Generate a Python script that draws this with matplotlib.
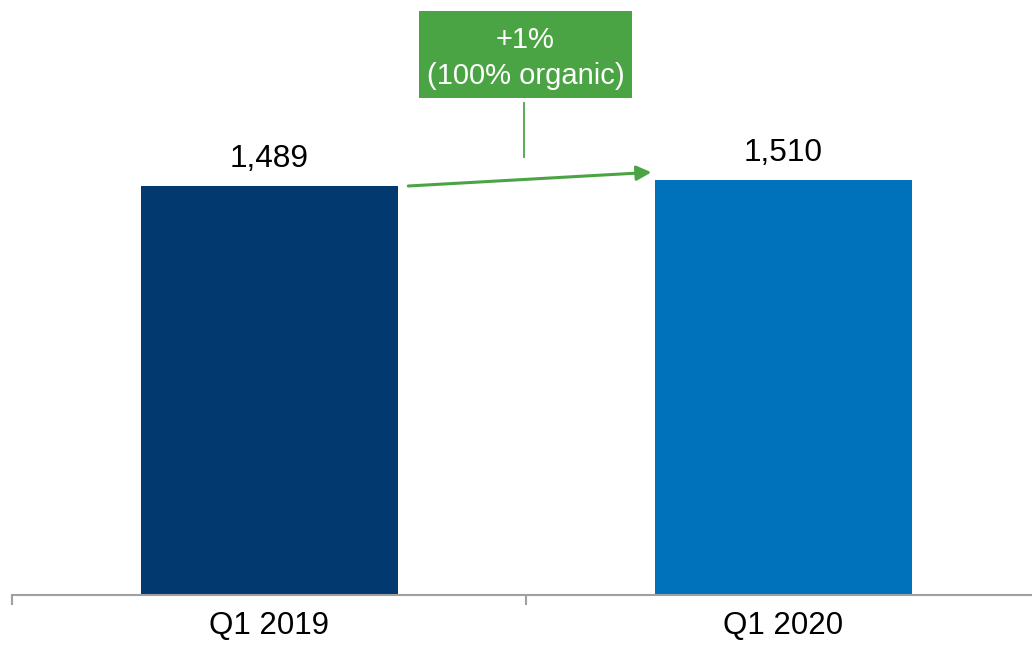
import matplotlib
matplotlib.use("Agg")
import matplotlib.pyplot as plt
from matplotlib.patches import Rectangle

categories = ["Q1 2019", "Q1 2020"]
values = [1489, 1510]
value_labels = ["1,489", "1,510"]
change_label = "+1%\n(100% organic)"
colors = ["#023A6F", "#0072BC"]
green = "#4BA443"

plt.rcParams['font.family'] = ['Liberation Sans', 'DejaVu Sans']

W, H = 1032, 646
fig = plt.figure(figsize=(W / 100, H / 100), dpi=100)
ax = fig.add_axes([12 / W, 51.5 / H, 1028 / W, 594.5 / H])

x = list(range(len(categories)))
ax.bar(x, values, width=0.5, color=colors, zorder=2)
ax.set_xlim(-0.5, 1.5)
ax.set_ylim(0, 2167)

for xi, v, lab in zip(x, values, value_labels):
    ax.annotate(lab, (xi, v), xytext=(0, 9), textcoords="offset points",
                ha="center", va="bottom", fontsize=22.8, color="black")

for s in ["top", "right", "left"]:
    ax.spines[s].set_visible(False)
ax.spines["bottom"].set_color("#A0A0A0")
ax.spines["bottom"].set_linewidth(1.5)
ax.set_yticks([])
ax.set_xticks(x)
ax.set_xticklabels(categories, fontsize=22.5)
ax.tick_params(axis="x", which="major", length=0, pad=12)
ax.set_xticks([-0.5, 0.5, 1.5], minor=True)
ax.tick_params(axis="x", which="minor", length=7.5, width=1.5, color="#A0A0A0")

# growth arrow between bars
ax.annotate("", xy=(0.744, values[1] + 29), xytext=(0.271, values[0]),
            arrowprops=dict(arrowstyle="-|>", color=green, lw=2.2,
                            mutation_scale=22, shrinkA=0, shrinkB=0))
# connector
ax.plot([0.497, 0.497], [1594, 1791], color=green, lw=1.3)
# box
ax.add_patch(Rectangle((0.2928, 1809.7), 0.7053 - 0.2928, 2126.8 - 1809.7,
                       facecolor=green, edgecolor="none", zorder=3, clip_on=False))
ax.text(0.499, 1955, change_label, ha="center", va="center", fontsize=21,
        color="white", zorder=4, linespacing=1.38)

fig.savefig("out.png", dpi=100)
